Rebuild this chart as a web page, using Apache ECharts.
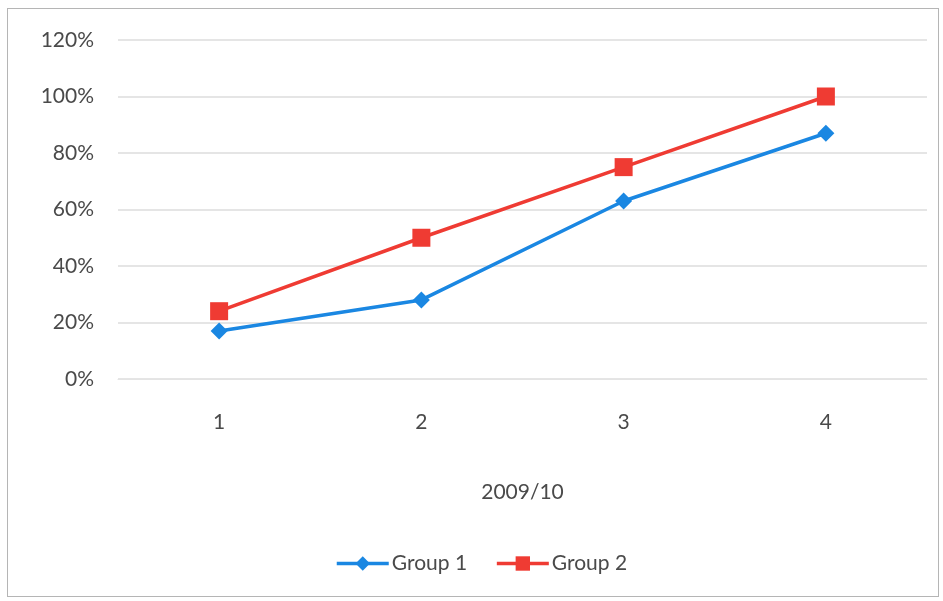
<!DOCTYPE html>
<html>
<head>
<meta charset="utf-8">
<script src="https://cdn.jsdelivr.net/npm/echarts@6/dist/echarts.min.js"></script>
<style>
  html, body { margin: 0; padding: 0; background: #fff; }
  #wrap { position: relative; width: 943px; height: 601px; }
  #frame { position: absolute; left: 7px; top: 8px; width: 932px; height: 589px;
           border: 1px solid #b5b5b5; box-sizing: border-box; }
  #chart { position: absolute; left: 0; top: 0; width: 943px; height: 601px; }
</style>
</head>
<body>
<div id="wrap">
  <div id="frame"></div>
  <div id="chart"></div>
</div>
<script>
// Quarters of the 2009/10 year and the share reached by each group (%)
const quarters = ['1', '2', '3', '4'];
const group1 = [17, 28, 63, 87];
const group2 = [24, 50, 75, 100];
const yTicks = { min: 0, max: 120, step: 20 };

const textColor = '#4a4a4a';
const font = 'Lato, "Open Sans", sans-serif';

const chart = echarts.init(document.getElementById('chart'));
chart.setOption({
  animation: false,
  grid: { left: 118, right: 16, top: 40, bottom: 222 },
  xAxis: {
    type: 'category',
    data: quarters,
    boundaryGap: true,
    name: '2009/10',
    nameLocation: 'middle',
    nameGap: 103,
    nameTextStyle: { color: textColor, fontSize: 21, fontFamily: font },
    axisLine: { show: true, lineStyle: { color: '#e4e4e4', width: 1 } },
    axisTick: { show: false },
    axisLabel: { color: textColor, fontSize: 21, fontFamily: font, margin: 33 }
  },
  yAxis: {
    type: 'value',
    min: yTicks.min,
    max: yTicks.max,
    interval: yTicks.step,
    axisLine: { show: false },
    axisTick: { show: false },
    axisLabel: { color: textColor, fontSize: 21, fontFamily: font, margin: 24,
                 formatter: '{value}%' },
    splitLine: { lineStyle: { color: '#dcdcdc', width: 1.5 } }
  },
  legend: {
    bottom: 22,
    left: 330,
    itemWidth: 52,
    itemHeight: 18,
    itemGap: 28,
    lineStyle: { width: 3.5 },
    textStyle: { color: textColor, fontSize: 21, fontFamily: font, padding: [0, 0, 0, -2] },
    data: ['Group 1', 'Group 2']
  },
  series: [
    {
      name: 'Group 1',
      type: 'line',
      data: group1,
      color: '#1a87e2',
      lineStyle: { width: 3.5 },
      symbol: 'diamond',
      symbolSize: 17
    },
    {
      name: 'Group 2',
      type: 'line',
      data: group2,
      color: '#ef3b33',
      lineStyle: { width: 3.5 },
      symbol: 'rect',
      symbolSize: 18
    }
  ]
});
</script>
</body>
</html>
